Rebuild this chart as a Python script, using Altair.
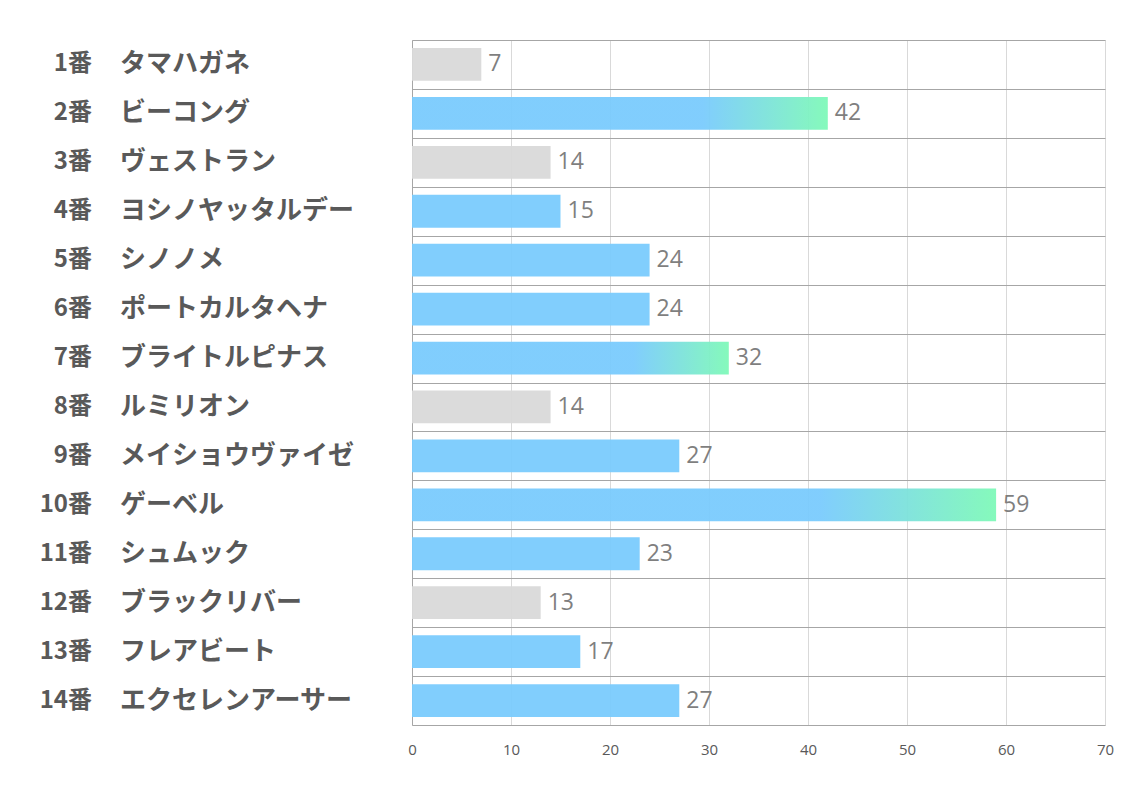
import altair as alt
import pandas as pd

numbers = ["1番", "2番", "3番", "4番", "5番", "6番", "7番", "8番", "9番", "10番", "11番", "12番", "13番", "14番"]
names = ["タマハガネ", "ビーコング", "ヴェストラン", "ヨシノヤッタルデー", "シノノメ", "ポートカルタヘナ",
         "ブライトルピナス", "ルミリオン", "メイショウヴァイゼ", "ゲーベル", "シュムック", "ブラックリバー",
         "フレアビート", "エクセレンアーサー"]
values = [7, 42, 14, 15, 24, 24, 32, 14, 27, 59, 23, 13, 17, 27]
groups = ["gray", "top", "gray", "blue", "blue", "blue", "top", "gray", "blue", "top", "blue", "gray", "blue", "blue"]

df = pd.DataFrame({"num": numbers, "name": names, "value": values, "group": groups})

BLUE = "#7ACBFD"
GREEN = "#7FF9B8"
GRAY = "#D9D9D9"

y_enc = alt.Y("num:N", sort=numbers,
              scale=alt.Scale(paddingInner=0, paddingOuter=0),
              axis=alt.Axis(title=None, labels=False, ticks=False, domain=True, domainColor="#A6A6A6",
                            grid=True, gridColor="#A6A6A6", gridWidth=1, tickBand="extent"))
x_enc = alt.X("value:Q", scale=alt.Scale(domain=[0, 70]),
              axis=alt.Axis(title=None, values=list(range(0, 71, 10)), grid=True, gridColor="#D9D9D9",
                            domain=False, ticks=False, labelFontSize=15, labelColor="#595959",
                            labelPadding=17, labelFont="Open Sans", labelFlush=False))

y_plain = alt.Y("num:N", sort=numbers)
bar_h = {"band": 0.67}

base = alt.Chart(df)

gray_bars = base.mark_bar(color=GRAY, opacity=0.95, height=bar_h).encode(x=x_enc, y=y_enc).transform_filter(
    alt.datum.group == "gray")
blue_bars = base.mark_bar(color=BLUE, opacity=0.95, height=bar_h).encode(x="value:Q", y=y_plain).transform_filter(
    alt.datum.group == "blue")
top_bars = base.mark_bar(
    opacity=0.95, height=bar_h,
    color=alt.Gradient(gradient="linear", x1=0, x2=1, y1=0, y2=0,
                       stops=[alt.GradientStop(offset=0, color=BLUE),
                              alt.GradientStop(offset=0.7, color=BLUE),
                              alt.GradientStop(offset=1, color=GREEN)])
).encode(x="value:Q", y=y_plain).transform_filter(alt.datum.group == "top")

value_text = base.mark_text(align="left", baseline="middle", dx=7, fontSize=23, color="#7F7F7F",
                            font="Open Sans").encode(
    x="value:Q", y=y_plain, text="value:Q")

num_text = base.mark_text(align="right", baseline="middle", fontSize=24, fontWeight="bold",
                          color="#595959", font="Noto Sans CJK JP").encode(
    x=alt.value(-320), y=y_plain, text="num:N")

name_text = base.mark_text(align="left", baseline="middle", fontSize=26, fontWeight="bold",
                           color="#595959", font="Noto Sans CJK JP").encode(
    x=alt.value(-292), y=y_plain, text="name:N")

chart = alt.layer(gray_bars, blue_bars, top_bars, value_text, num_text, name_text).properties(
    width=693, height=685,
    autosize=alt.AutoSizeParams(type="none"),
    padding={"left": 404, "top": 32, "right": 20, "bottom": 60},
).configure_view(stroke=None).configure(background="white")

chart.save("out.html", embed_options={"renderer": "svg", "actions": False})
